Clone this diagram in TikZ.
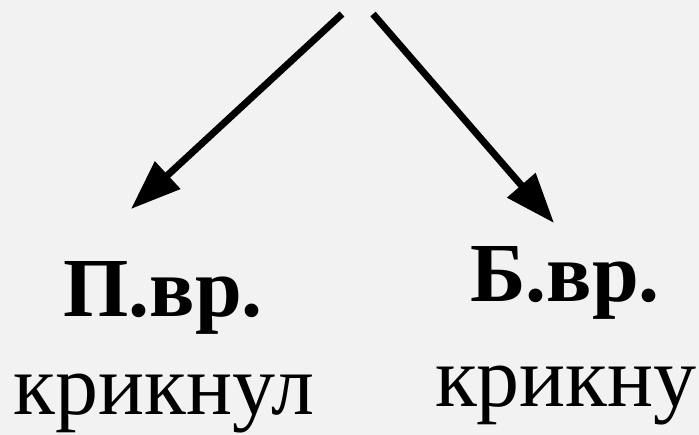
\documentclass[tikz,border=0pt]{standalone}
\usepackage{fontspec}
\setmainfont{Liberation Serif}
\usetikzlibrary{
    arrows.meta,
    positioning
}
\tikzset{
    % Arrows
    arrow tip/.tip={Triangle[length=50pt,width=36pt]},
    arr/.style={-{arrow tip},line width=7pt},
    %
    % Labels
    tense label/.style={anchor=base,inner sep=0pt,font=\fontsize{84}{90}\selectfont\bfseries},
    verb label/.style={anchor=base,inner sep=0pt,font=\fontsize{86}{92}\selectfont}
}

\begin{document}
\begin{tikzpicture}[x=1pt,y=-1pt]
        \fill[black!5] (0,0) rectangle (699,435);
        \useasboundingbox (0,0) rectangle (699,435);
        \coordinate (L start) at (342,14);
        \coordinate (L end) at (131,209);
        \coordinate (R start) at (373,14);
        \coordinate (R end) at (554,223);
        \draw[arr] (L start) -- (L end);
        \draw[arr] (R start) -- (R end);
        \node[tense label] (PV) at (163,317) {П.вр.};
        \node[verb label] (PVverb) at (164,415) {крикнул};
        \node[tense label] (BV) at (565,302) {Б.вр.};
        \node[verb label, anchor=base east] (BVverb) at (697,407) {крикну};
    \end{tikzpicture}
\end{document}
